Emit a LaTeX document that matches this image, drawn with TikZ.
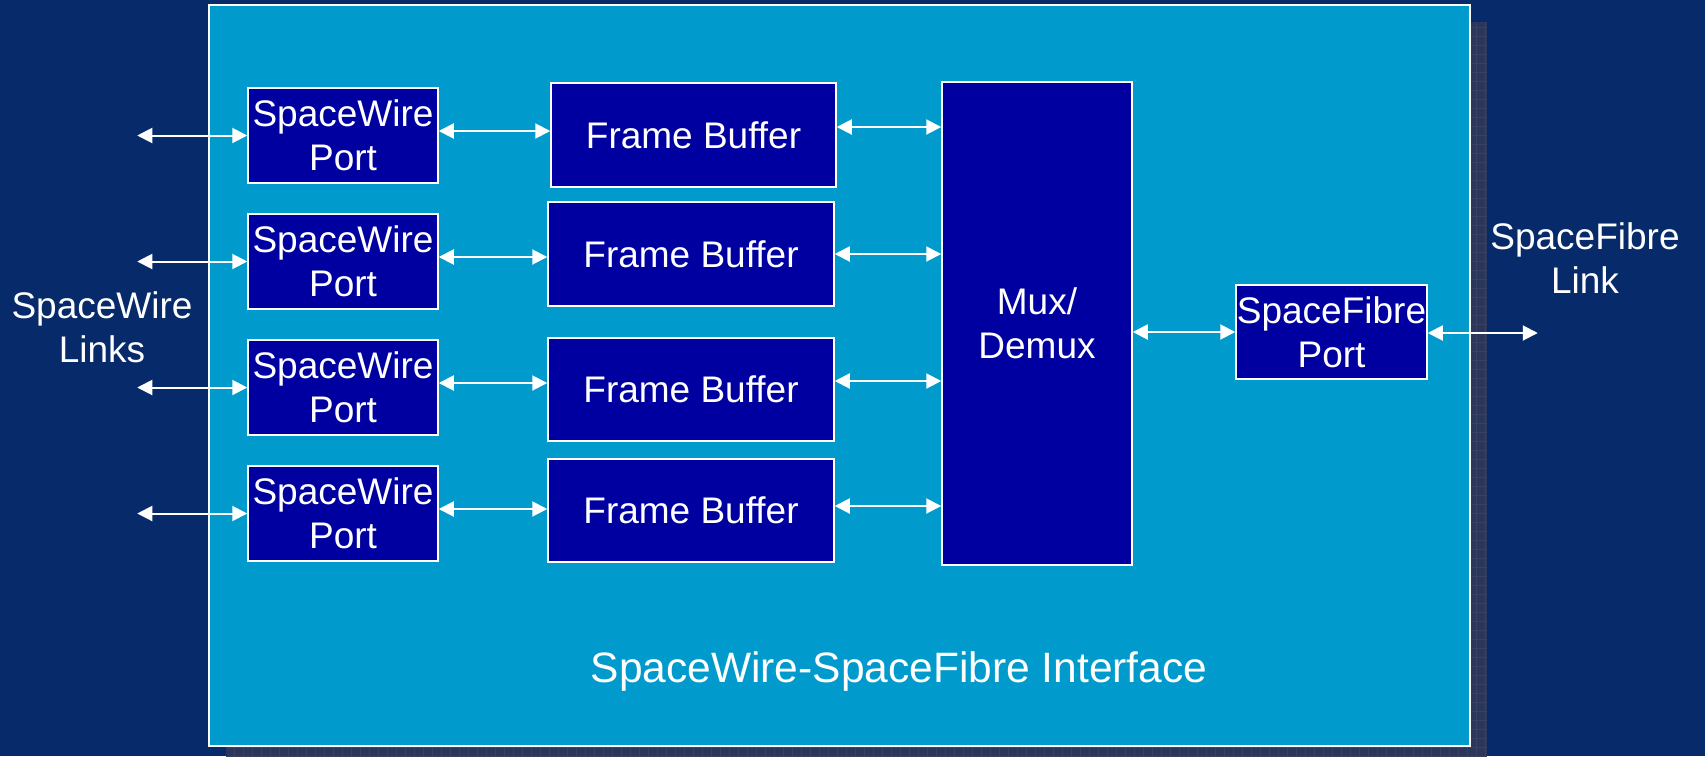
\documentclass[tikz,border=0pt]{standalone}
\usepackage{fontspec}
\setmainfont{Liberation Sans}
\usetikzlibrary{arrows.meta}
\definecolor{bgblue}{RGB}{6,42,106}
\definecolor{panel}{RGB}{0,155,204}
\definecolor{boxblue}{RGB}{0,0,160}
\definecolor{shadowc}{RGB}{42,54,90}
\definecolor{gridc}{RGB}{58,64,98}
\tikzset{
  blk/.style={draw=white, line width=1.5pt, fill=boxblue, text=white, inner sep=0pt, align=center,
    font=\fontsize{37}{44}\selectfont, text depth=0pt},
  lbl/.style={text=white, align=center, inner sep=0pt, font=\fontsize{37}{44}\selectfont},
  arr/.style={draw=white, line width=2pt, {Triangle[length=15pt,width=15pt]}-{Triangle[length=15pt,width=15pt]}},
}
\begin{document}
\begin{tikzpicture}[x=1pt,y=-1pt]
\useasboundingbox (0,0) rectangle (1705,756);
\fill[bgblue] (0,0) rectangle (1705,756);
% shadow
\fill[shadowc] (226,22) rectangle (1487,763);
\begin{scope}
\clip (226,22) rectangle (1487,756);
\draw[gridc, line width=0.6pt, step=9pt] (226,22) grid (1487,763);
\end{scope}
% panel
\draw[white, line width=2.5pt, fill=panel] (209,5) rectangle (1470,746);

% ports
\node[blk, minimum width=190pt, minimum height=95pt] (p1) at (343,135.5) {SpaceWire\\Port};
\node[blk, minimum width=190pt, minimum height=95pt] (p2) at (343,261.5) {SpaceWire\\Port};
\node[blk, minimum width=190pt, minimum height=95pt] (p3) at (343,387.5) {SpaceWire\\Port};
\node[blk, minimum width=190pt, minimum height=95pt] (p4) at (343,513.5) {SpaceWire\\Port};
% frame buffers
\node[blk, minimum width=285pt, minimum height=104pt] (f1) at (693.5,135) {Frame Buffer};
\node[blk, minimum width=286pt, minimum height=104pt] (f2) at (691,254) {Frame Buffer};
\node[blk, minimum width=286pt, minimum height=103pt] (f3) at (691,389.5) {Frame Buffer};
\node[blk, minimum width=286pt, minimum height=103pt] (f4) at (691,510.5) {Frame Buffer};
% mux
\node[blk, minimum width=190pt, minimum height=483pt] (mux) at (1037,323.5) {Mux/\\Demux};
% spacefibre port
\node[blk, minimum width=191pt, minimum height=94pt] (sf) at (1331.5,332) {SpaceFibre\\Port};

% labels
\node[lbl] (swl) at (102,327) {SpaceWire\\Links};
\node[lbl] (sfl) at (1585,258) {SpaceFibre\\Link};
\node[lbl, font=\fontsize{42.5}{50}\selectfont] (title) at (899,671) {SpaceWire-SpaceFibre Interface};

% external free ends
\coordinate (l1) at ([xshift=-110pt]p1.west);
\coordinate (l2) at ([xshift=-110pt]p2.west);
\coordinate (l3) at ([xshift=-110pt]p3.west);
\coordinate (l4) at ([xshift=-110pt]p4.west);
\coordinate (r1) at ([xshift=110pt,yshift=-1pt]sf.east);

\draw[arr] (l1) -- (p1.west);
\draw[arr] (l2) -- (p2.west);
\draw[arr] (l3) -- (p3.west);
\draw[arr] (l4) -- (p4.west);

\draw[arr] ([yshift=4.5pt]p1.east) -- ([yshift=4.5pt]p1.east -| f1.west);
\draw[arr] ([yshift=4.5pt]p2.east) -- ([yshift=4.5pt]p2.east -| f2.west);
\draw[arr] ([yshift=4.5pt]p3.east) -- ([yshift=4.5pt]p3.east -| f3.west);
\draw[arr] ([yshift=4.5pt]p4.east) -- ([yshift=4.5pt]p4.east -| f4.west);

\draw[arr] ([yshift=8pt]f1.east) -- ([yshift=8pt]f1.east -| mux.west);
\draw[arr] (f2.east) -- (f2.east -| mux.west);
\draw[arr] ([yshift=8.5pt]f3.east) -- ([yshift=8.5pt]f3.east -| mux.west);
\draw[arr] ([yshift=4.5pt]f4.east) -- ([yshift=4.5pt]f4.east -| mux.west);

\draw[arr] (mux.east |- sf.west) -- (sf.west);
\draw[arr] ([yshift=-1pt]sf.east) -- (r1);
\end{tikzpicture}
\end{document}
